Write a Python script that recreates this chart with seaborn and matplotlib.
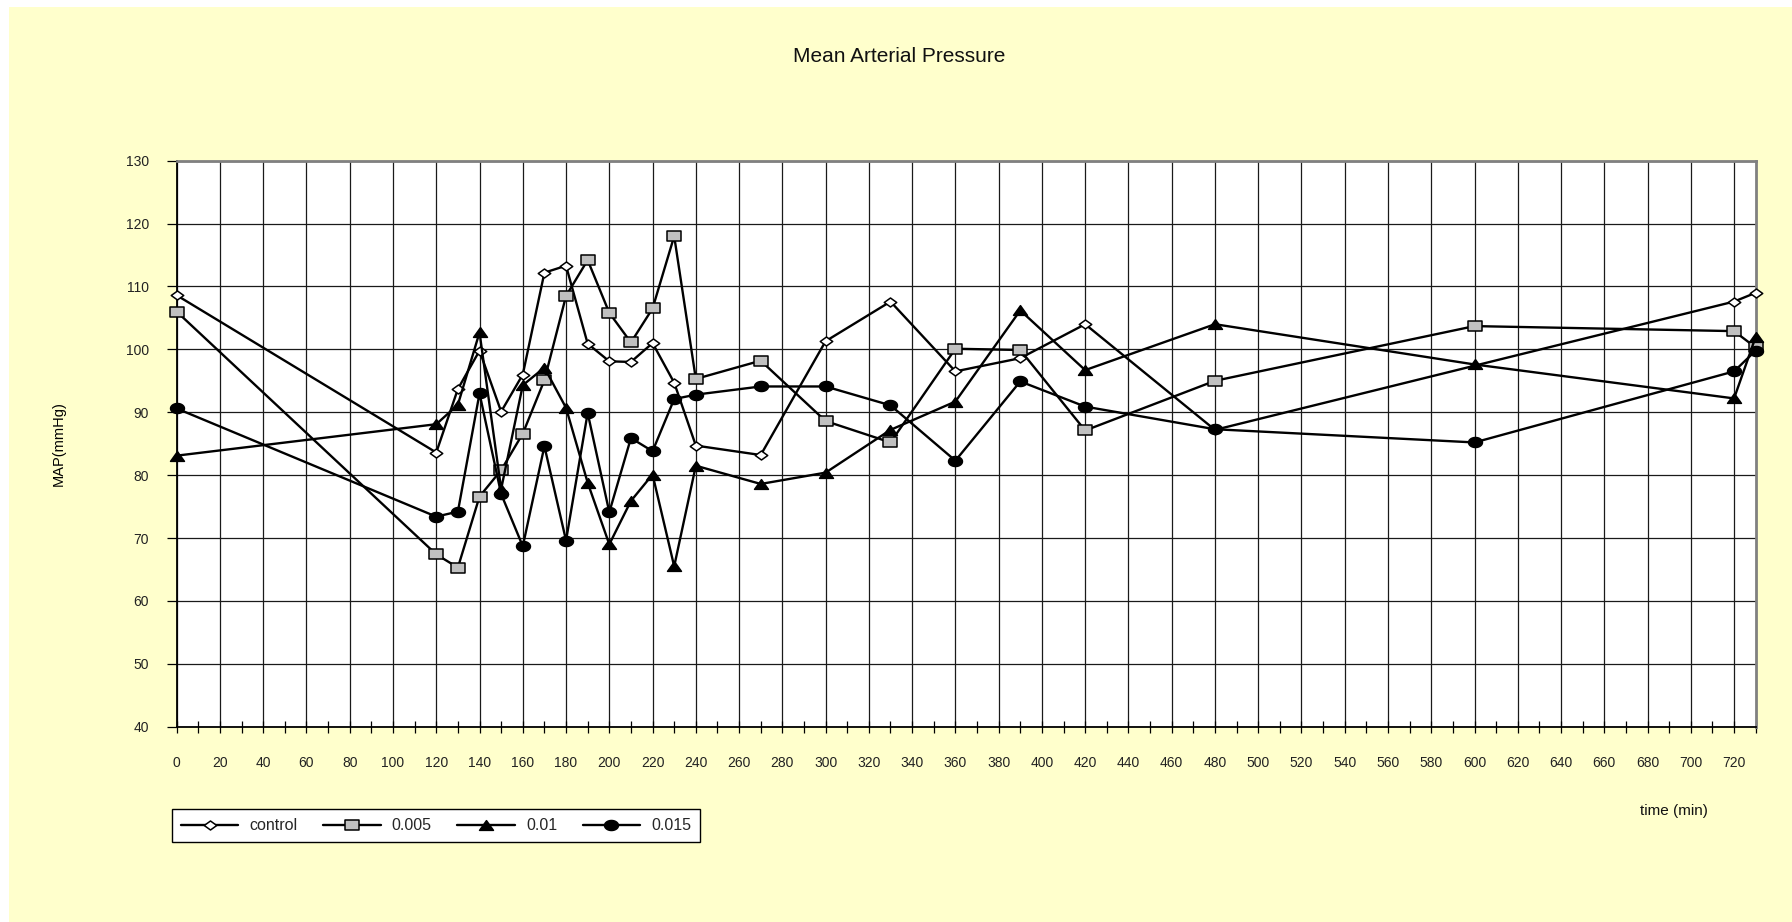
import numpy as np
import pandas as pd
import seaborn as sns
import matplotlib
matplotlib.use("Agg")
import matplotlib.pyplot as plt
from matplotlib.path import Path
from matplotlib.patches import Rectangle
from matplotlib.ticker import MultipleLocator

# ---- data -------------------------------------------------------------
time_control = [0, 120, 130, 140, 150, 160, 170, 180, 190, 200, 210, 220, 230,
                240, 270, 300, 330, 360, 390, 420, 480, 720, 730]
map_control = [108.6, 83.6, 93.7, 99.8, 90.1, 96.0, 112.2, 113.3, 100.9, 98.1,
               98.0, 101.0, 94.7, 84.7, 83.2, 101.3, 107.6, 96.5, 98.6, 104.0,
               87.2, 107.6, 109.0]

time_dose = [0, 120, 130, 140, 150, 160, 170, 180, 190, 200, 210, 220, 230,
             240, 270, 300, 330, 360, 390, 420, 480, 600, 720, 730]
map_0005 = [106.0, 67.4, 65.3, 76.6, 80.8, 86.6, 95.1, 108.5, 114.2, 105.8,
            101.1, 106.5, 118.0, 95.3, 98.2, 88.6, 85.2, 100.1, 99.9, 87.1,
            95.0, 103.7, 102.9, 100.3]
map_001 = [83.1, 88.1, 91.2, 102.7, 77.8, 94.3, 97.1, 90.7, 78.8, 69.0,
           75.9, 80.1, 65.5, 81.5, 78.6, 80.4, 87.2, 91.7, 106.2, 96.7,
           104.0, 97.6, 92.2, 102.0]
map_0015 = [90.6, 73.4, 74.2, 93.0, 77.0, 68.7, 84.6, 69.6, 89.9, 74.1,
            85.9, 83.8, 92.1, 92.8, 94.1, 94.1, 91.1, 82.3, 94.9, 90.9,
            87.3, 85.2, 96.5, 99.8]

series_labels = ["control", "0.005", "0.01", "0.015"]

# ---- marker shapes (slightly wide, spreadsheet style) -----------------
diamond = Path([(-1, 0), (0, 0.72), (1, 0), (0, -0.72), (-1, 0)],
               [Path.MOVETO, Path.LINETO, Path.LINETO, Path.LINETO, Path.CLOSEPOLY])
square = Path([(-1, -0.7), (1, -0.7), (1, 0.7), (-1, 0.7), (-1, -0.7)],
              [Path.MOVETO, Path.LINETO, Path.LINETO, Path.LINETO, Path.CLOSEPOLY])
triangle = Path([(-1, -0.7), (1, -0.7), (0, 0.7), (-1, -0.7)],
                [Path.MOVETO, Path.LINETO, Path.LINETO, Path.CLOSEPOLY])
th = np.linspace(0, 2 * np.pi, 41)
ellipse = Path(np.column_stack([np.cos(th), 0.72 * np.sin(th)]), closed=True)

styles = {
    "control": dict(marker=diamond, markersize=9, markerfacecolor="white"),
    "0.005": dict(marker=square, markersize=9.5, markerfacecolor="#c0c0c0"),
    "0.01": dict(marker=triangle, markersize=10, markerfacecolor="black"),
    "0.015": dict(marker=ellipse, markersize=10, markerfacecolor="black"),
}

frames = [
    pd.DataFrame({"time": time_control, "map": map_control, "group": series_labels[0]}),
    pd.DataFrame({"time": time_dose, "map": map_0005, "group": series_labels[1]}),
    pd.DataFrame({"time": time_dose, "map": map_001, "group": series_labels[2]}),
    pd.DataFrame({"time": time_dose, "map": map_0015, "group": series_labels[3]}),
]

# ---- figure -----------------------------------------------------------
sns.set_style("white")
plt.rcParams["font.family"] = ["Liberation Sans", "DejaVu Sans"]

fig = plt.figure(figsize=(17.92, 9.22), dpi=100, facecolor="white")
fig.patches.append(Rectangle((9 / 1792, 0), 1 - 9 / 1792, 1 - 7 / 922,
                             transform=fig.transFigure, facecolor="#ffffcc",
                             edgecolor="none", zorder=-10))

ax = fig.add_axes([176.7 / 1792, 1 - 726.7 / 922,
                   (1755.7 - 176.7) / 1792, (726.7 - 160.7) / 922])
ax.set_zorder(1)
ax.set_facecolor("white")

for df in frames:
    name = df["group"].iloc[0]
    sns.lineplot(data=df, x="time", y="map", ax=ax, color="black",
                 linewidth=1.7, markeredgecolor="black", markeredgewidth=1.1,
                 estimator=None, sort=False, label=name, zorder=3,
                 clip_on=False, **styles[name])

ax.set_xlim(0, 730)
ax.set_ylim(40, 130)
ax.xaxis.set_major_locator(MultipleLocator(20))
ax.xaxis.set_minor_locator(MultipleLocator(10))
ax.yaxis.set_major_locator(MultipleLocator(10))
ax.grid(True, which="major", axis="both", color="#1a1a1a", linewidth=0.9)
ax.set_axisbelow(True)

ax.tick_params(axis="x", which="both", direction="inout", length=8,
               width=0.9, color="black", bottom=True, labelsize=10,
               pad=17, labelcolor="#222222")
ax.tick_params(axis="y", which="major", direction="out", length=7,
               width=0.9, color="black", left=True, labelsize=10,
               pad=13, labelcolor="#222222")

for side in ["left", "bottom"]:
    ax.spines[side].set_color("black")
    ax.spines[side].set_linewidth(1.3)
for side in ["top", "right"]:
    ax.spines[side].set_color("#808080")
    ax.spines[side].set_linewidth(2)

ax.set_xlabel("")
ax.set_ylabel("MAP(mmHg)", fontsize=10.5, color="black")
ax.yaxis.set_label_coords((66 - 176.7) / (1755.7 - 176.7), 0.5)

fig.text(899 / 1792, 1 - 57 / 922, "Mean Arterial Pressure", ha="center",
         va="center", fontsize=15, color="#111111")
fig.text(1674 / 1792, 1 - 811 / 922, "time (min)", ha="center", va="center",
         fontsize=11, color="#111111")

handles, labels = ax.get_legend_handles_labels()
ax.get_legend().remove()
leg = fig.legend(handles, labels, loc="lower left", ncol=4,
                 bbox_to_anchor=(172 / 1792, 1 - 842 / 922),
                 frameon=True, fancybox=False, edgecolor="black",
                 facecolor="white", framealpha=1, fontsize=11.5,
                 handlelength=3.6, columnspacing=1.6, handletextpad=0.7,
                 borderpad=0.55, borderaxespad=0)
leg.get_frame().set_linewidth(1.0)

fig.savefig("out.png", dpi=100, facecolor=fig.get_facecolor())
